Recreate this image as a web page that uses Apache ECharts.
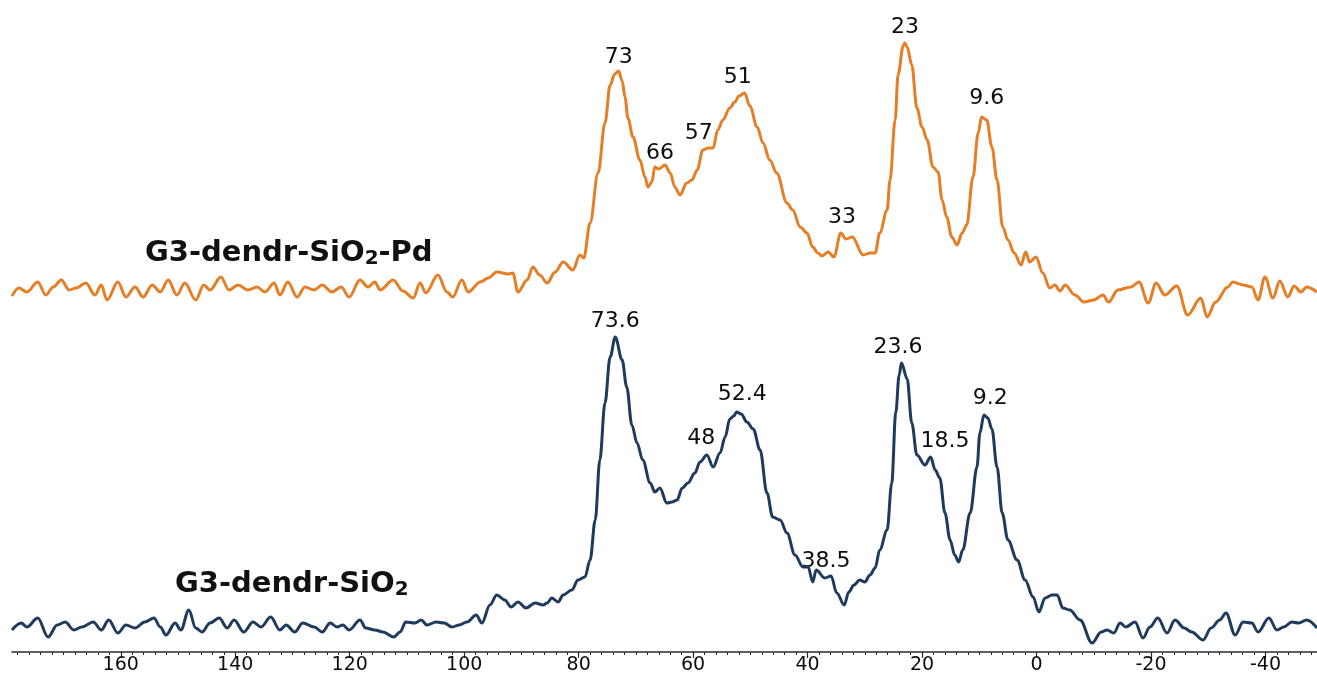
<!DOCTYPE html>
<html>
<head>
<meta charset="utf-8">
<title>13C CP/MAS NMR – G3-dendr-SiO2 and G3-dendr-SiO2-Pd</title>
<script src="https://cdn.jsdelivr.net/npm/echarts@6/dist/echarts.min.js"></script>
<style>
  html, body { margin: 0; padding: 0; background: #ffffff; }
  #chart { width: 1317px; height: 682px; }
</style>
</head>
<body>
<div id="chart"></div>
<script>
// Chemical shift (ppm) and intensity (arb. units) of the Pd-loaded material
const pdSpectrum = [
  [179.0,-6],[177.8,2],[176.4,-2],[174.5,8],[173.1,-5],[171.8,3],[170.4,10],[169.0,0],[167.8,2],[166.1,7],
  [164.5,-5],[163.4,5],[162.4,-10],[160.5,8],[159.1,-7],[157.5,3],[156.1,-7],[154.5,5],[153.1,-2],[151.7,10],
  [150.2,-5],[148.8,7],[146.9,-10],[145.5,5],[144.4,0],[142.5,13],[141.1,0],[139.5,5],[137.8,0],[136.2,3],
  [134.8,-2],[133.2,7],[132.2,-5],[130.8,8],[129.2,-7],[127.8,3],[126.2,0],[124.8,5],[123.1,-2],[121.5,3],
  [120.1,-7],[118.2,10],[116.8,3],[115.6,8],[114.7,0],[112.4,10],[110.7,-1],[108.9,-8],[107.7,7],[106.7,-3],
  [104.6,15],[103.0,-2],[102.0,-7],[100.4,10],[99.3,-2],[97.2,8],[95.8,12],[94.3,18],[92.3,16],[91.5,17],
  [90.6,-2],[89.0,10],[88.0,23],[86.8,15],[85.5,7],[84.1,18],[82.7,28],[81.0,20],[79.8,35],[79.1,32],
  [78.0,67],[76.6,117],[75.4,167],[74.5,205],[73.7,216],[73.0,219],[72.4,209],[71.9,193],[71.4,172],[70.5,153],
  [69.3,130],[68.4,113],[67.9,103],[67.2,108],[66.7,123],[66.0,121],[64.9,125],[64.0,117],[63.2,103],[62.3,95],
  [61.1,107],[60.2,110],[59.3,120],[58.3,140],[57.4,142],[56.5,142],[55.7,160],[54.8,170],[53.6,182],[52.7,188],
  [52.0,194],[51.0,197],[50.1,184],[48.8,163],[47.8,147],[46.6,130],[45.4,117],[43.6,87],[42.6,80],[41.3,63],
  [40.1,57],[39.1,43],[38.2,37],[37.5,34],[36.4,38],[35.4,33],[34.2,57],[33.3,51],[32.2,53],[30.3,35],
  [29.1,37],[28.2,37],[27.4,57],[26.1,80],[25.6,110],[24.7,170],[24.2,215],[23.3,244],[23.0,247],[22.6,243],
  [21.8,225],[20.9,182],[20.0,163],[19.1,150],[18.1,123],[17.2,118],[16.5,90],[15.7,73],[14.8,53],[13.9,45],
  [13.0,57],[12.2,65],[11.1,113],[10.2,157],[9.6,173],[8.7,170],[7.8,143],[6.9,110],[5.9,63],[5.0,50],
  [3.9,37],[2.7,25],[1.9,38],[1.2,28],[0.1,33],[-1.1,17],[-2.3,2],[-3.2,5],[-4.1,-1],[-5.0,5],
  [-6.7,-5],[-8.3,-12],[-10.0,-10],[-11.6,-5],[-12.6,-12],[-14.2,0],[-16.5,3],[-17.9,8],[-19.5,-13],[-20.9,7],
  [-22.4,-5],[-24.5,4],[-26.4,-25],[-28.7,-8],[-29.8,-27],[-31.3,-12],[-33.4,3],[-34.3,8],[-36.1,5],[-37.6,3],
  [-38.7,-10],[-39.9,13],[-41.3,-8],[-42.5,9],[-43.9,-7],[-45.0,4],[-46.2,-2],[-47.2,3],[-49.0,-2]
];

// Chemical shift (ppm) and intensity (arb. units) of the parent material
const siSpectrum = [
  [179.0,-5],[177.4,2],[176.4,-2],[174.5,7],[172.7,-12],[171.1,0],[169.7,3],[168.2,-5],[166.8,-2],[164.8,3],
  [163.4,-5],[162.1,5],[160.5,-8],[159.1,0],[157.5,-3],[155.8,3],[154.2,7],[153.1,-2],[152.1,-10],[150.5,2],
  [149.5,-5],[148.1,15],[146.9,-3],[145.8,-7],[144.4,2],[142.8,7],[141.4,-3],[140.2,5],[138.5,-7],[136.9,3],
  [135.5,-2],[133.8,8],[132.2,-5],[131.1,0],[129.6,-7],[128.2,2],[126.2,-2],[124.8,-7],[123.4,2],[122.2,-2],
  [121.2,0],[120.1,-5],[118.2,5],[117.2,-3],[115.6,-5],[114.2,-7],[112.3,-12],[111.2,-7],[110.2,3],[108.6,2],
  [107.5,5],[106.5,0],[104.9,3],[103.5,2],[102.1,-2],[100.9,0],[99.5,3],[97.9,10],[96.9,2],[95.5,20],
  [94.3,30],[92.9,25],[91.8,18],[90.6,23],[89.2,17],[87.6,22],[86.2,20],[85.5,22],[84.7,27],[83.6,23],
  [82.7,30],[81.2,35],[80.1,45],[78.9,48],[78.0,65],[77.1,105],[76.3,165],[75.4,222],[74.5,268],[73.6,288],
  [72.4,265],[71.6,238],[70.7,200],[69.8,182],[68.8,165],[67.5,142],[66.7,133],[65.8,137],[64.6,122],[63.7,123],
  [62.8,125],[61.9,137],[60.9,142],[59.7,152],[58.8,163],[57.6,170],[56.5,158],[55.3,172],[54.4,188],[53.6,206],
  [52.9,209],[52.4,213],[51.6,211],[50.6,203],[49.5,196],[48.3,175],[47.1,132],[46.1,108],[44.8,105],[43.6,92],
  [42.2,70],[40.8,58],[39.9,58],[39.1,43],[38.5,55],[37.0,47],[35.9,49],[34.9,32],[33.6,20],[32.8,33],
  [31.9,40],[30.9,45],[30.0,43],[29.1,50],[28.2,57],[27.4,75],[26.1,95],[25.3,142],[24.6,212],[24.0,250],
  [23.6,262],[22.6,246],[21.8,202],[20.9,170],[19.5,160],[18.5,168],[17.7,155],[16.9,147],[16.0,112],[15.1,85],
  [14.3,70],[13.6,63],[12.9,75],[11.6,112],[10.4,158],[9.9,192],[9.2,210],[8.5,207],[7.8,196],[6.9,158],
  [6.0,112],[5.0,85],[3.4,65],[2.0,45],[0.6,28],[-0.4,13],[-1.5,27],[-2.7,30],[-3.6,30],[-4.6,17],
  [-5.8,15],[-7.6,5],[-9.7,-18],[-11.3,-7],[-12.3,-5],[-13.5,-8],[-14.6,2],[-15.6,-2],[-17.2,3],[-18.6,-13],
  [-19.8,-2],[-21.2,7],[-22.8,-8],[-24.2,5],[-25.8,-3],[-27.1,-7],[-29.1,-15],[-30.5,-3],[-32.0,5],[-33.1,12],
  [-34.7,-10],[-36.1,3],[-37.6,2],[-38.7,-7],[-40.6,7],[-42.0,-5],[-43.2,-2],[-44.6,3],[-45.8,2],[-47.2,5],
  [-49.0,-3]
];

// Peak annotations: [text, shift, intensity] of the label centre
const pdPeakLabels = [
  ['73', 73.0, 233], ['66', 65.8, 137], ['57', 59.0, 157], ['51', 52.2, 213],
  ['33', 34.0, 73], ['23', 23.0, 263], ['9.6', 8.7, 192]
];
const siPeakLabels = [
  ['73.6', 73.6, 304], ['48', 58.6, 187], ['52.4', 51.4, 231], ['38.5', 36.8, 64],
  ['23.6', 24.2, 278], ['18.5', 16.0, 184], ['9.2', 8.1, 227]
];

// Sample names (formula with subscript)
const pdName = ['G3-dendr-SiO', '2', '-Pd'];
const siName = ['G3-dendr-SiO', '2', ''];

// Axis tick labels (ppm)
const shiftTicks = [160, 140, 120, 100, 80, 60, 40, 20, 0, -20, -40];
const minorTicks = [];
for (let v = -48; v <= 178; v += 2) minorTicks.push(v);

const SHIFT_MIN = -49, SHIFT_MAX = 179;
const ORANGE = '#E57E25';
const NAVY = '#1E3A5C';
const LABEL_FONT = '"DejaVu Sans", "Liberation Sans", sans-serif';

function labelSeries(list, xi, yi) {
  return {
    type: 'scatter',
    xAxisIndex: xi,
    yAxisIndex: yi,
    silent: true,
    clip: false,
    symbol: 'circle',
    symbolSize: 0,
    itemStyle: { color: '#000000', opacity: 1 },
    data: list.map(p => ({ value: [p[1], p[2]], name: p[0] })),
    label: {
      show: true,
      position: 'inside',
      formatter: params => params.name,
      fontFamily: LABEL_FONT,
      fontSize: 22,
      color: '#0d0d0d',
      textBorderWidth: 0
    },
    emphasis: { disabled: true }
  };
}

// Bold sample name; the subscript is smaller and pushed down with top padding
function nameText(parts, x, y) {
  return {
    type: 'text', x: x, y: y, silent: true,
    style: {
      text: '{m|' + parts[0] + '}{s|' + parts[1] + '}' + (parts[2] ? '{m|' + parts[2] + '}' : ''),
      verticalAlign: 'middle',
      rich: {
        m: { fontFamily: LABEL_FONT, fontWeight: 'bold', fontSize: 29, lineHeight: 34, fill: '#111111' },
        s: { fontFamily: LABEL_FONT, fontWeight: 'bold', fontSize: 20, lineHeight: 20, padding: [12, 0, 0, 0], fill: '#111111' }
      }
    }
  };
}

const chart = echarts.init(document.getElementById('chart'), null, { renderer: 'canvas' });
chart.setOption({
  animation: false,
  backgroundColor: '#ffffff',
  grid: [
    { left: 12, right: 0, top: 0, height: 340 },
    { left: 12, right: 0, top: 310, bottom: 30 }
  ],
  xAxis: [
    { gridIndex: 0, type: 'value', min: SHIFT_MIN, max: SHIFT_MAX, inverse: true, show: false },
    {
      gridIndex: 1, type: 'value', min: SHIFT_MIN, max: SHIFT_MAX, inverse: true,
      position: 'bottom', offset: 0,
      axisLine: { show: true, onZero: false, lineStyle: { color: '#2b2b2b', width: 1.5 } },
      axisTick: { show: true, customValues: shiftTicks, length: 6, lineStyle: { color: '#2b2b2b', width: 1.2 } },
      axisLabel: {
        show: true, customValues: shiftTicks, margin: 4,
        fontFamily: LABEL_FONT, fontSize: 19, color: '#0d0d0d'
      },
      splitLine: { show: false }
    },
    {
      gridIndex: 1, type: 'value', min: SHIFT_MIN, max: SHIFT_MAX, inverse: true,
      position: 'bottom', offset: 0,
      axisLine: { show: false, onZero: false },
      axisTick: { show: true, customValues: minorTicks, length: 3, lineStyle: { color: '#2b2b2b', width: 1 } },
      axisLabel: { show: false },
      splitLine: { show: false }
    }
  ],
  yAxis: [
    { gridIndex: 0, type: 'value', min: -50, max: 290, show: false },
    { gridIndex: 1, type: 'value', min: -27, max: 315, show: false }
  ],
  graphic: [
    nameText(pdName, 145, 253),
    nameText(siName, 175, 584)
  ],
  series: [
    {
      name: pdName.join(''), type: 'line', xAxisIndex: 0, yAxisIndex: 0,
      data: pdSpectrum, showSymbol: false, smooth: 0.35, smoothMonotone: 'x',
      lineStyle: { color: ORANGE, width: 3 }, clip: false
    },
    {
      name: siName.join(''), type: 'line', xAxisIndex: 1, yAxisIndex: 1,
      data: siSpectrum, showSymbol: false, smooth: 0.35, smoothMonotone: 'x',
      lineStyle: { color: NAVY, width: 3 }, clip: false
    },
    labelSeries(pdPeakLabels, 0, 0),
    labelSeries(siPeakLabels, 1, 1)
  ]
});
</script>
</body>
</html>
